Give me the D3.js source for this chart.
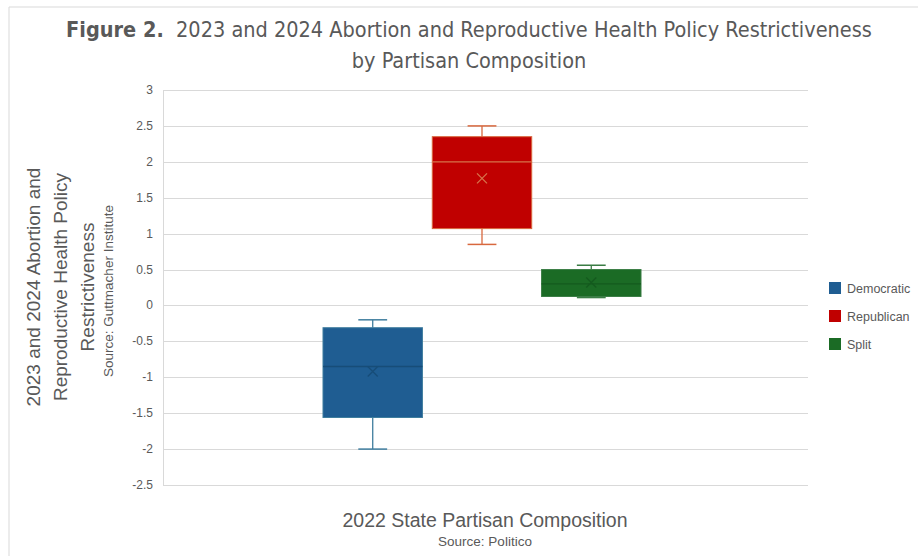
<!DOCTYPE html>
<html>
<head>
<meta charset="utf-8">
<script src="https://cdn.jsdelivr.net/npm/d3@7"></script>
<style>
  body { margin: 0; background: #fff; }
  text { font-family: "Liberation Sans", Arial, sans-serif; }
</style>
</head>
<body>
<div id="chart"></div>
<script>
// box plot stats
var series = ["Democratic", "Republican", "Split"];
var lows    = [-2.0, 0.85, 0.11];
var q1s     = [-1.56, 1.07, 0.125];
var medians = [-0.85, 2.0, 0.30];
var q3s     = [-0.31, 2.35, 0.50];
var highs   = [-0.2, 2.5, 0.56];
var means   = [-0.92, 1.77, 0.32];
var yTicks  = [3, 2.5, 2, 1.5, 1, 0.5, 0, -0.5, -1, -1.5, -2, -2.5];

var fills    = ["#1f5d92", "#c00000", "#1b6b25"];
var strokes  = ["#3f7d9e", "#d8683e", "#3b7d45"];
var midlines = ["#174d78", "#d6734a", "#145a1e"];

var W = 918, H = 556,
    plot = {left: 163, right: 808, top: 90, bottom: 485};

var svg = d3.select("#chart").append("svg").attr("width", W).attr("height", H);

// frame
svg.append("path").attr("d", "M9," + H + "V7H" + W)
    .attr("fill", "none").attr("stroke", "#d9d9d9").attr("stroke-width", 1);

var y = d3.scaleLinear().domain([-2.5, 3]).range([plot.bottom, plot.top]);

var x = d3.scaleBand().domain(series)
    .range([plot.left + 160, plot.right - 167])
    .paddingInner(0.09);

// grid
svg.append("g").selectAll("line").data(yTicks).enter().append("line")
    .attr("x1", plot.left).attr("x2", plot.right)
    .attr("y1", function(d) { return Math.round(y(d)) + 0.5; })
    .attr("y2", function(d) { return Math.round(y(d)) + 0.5; })
    .attr("stroke", "#d9d9d9");
svg.append("line")
    .attr("x1", plot.left + 0.5).attr("x2", plot.left + 0.5)
    .attr("y1", y(3)).attr("y2", y(-2.5)).attr("stroke", "#d9d9d9");

// tick labels
svg.append("g").selectAll("text").data(yTicks).enter().append("text")
    .attr("x", 153).attr("y", function(d) { return y(d) + 4; })
    .attr("text-anchor", "end").attr("fill", "#595959")
    .style("font-size", "12px")
    .text(function(d) { return d; });

// boxes
var boxes = svg.append("g").selectAll("g").data(series).enter().append("g");

boxes.each(function(s, i) {
    var g = d3.select(this),
        x0 = x(s), bw = x.bandwidth(), cx = x0 + bw / 2, cap = bw * 0.29;
    // whiskers
    g.append("line").attr("x1", cx).attr("x2", cx).attr("y1", y(highs[i])).attr("y2", y(q3s[i]))
        .attr("stroke", strokes[i]).attr("stroke-width", 1.3);
    g.append("line").attr("x1", cx).attr("x2", cx).attr("y1", y(q1s[i])).attr("y2", y(lows[i]))
        .attr("stroke", strokes[i]).attr("stroke-width", 1.3);
    [highs[i], lows[i]].forEach(function(v) {
        g.append("line").attr("x1", cx - cap / 2).attr("x2", cx + cap / 2)
            .attr("y1", y(v)).attr("y2", y(v))
            .attr("stroke", strokes[i]).attr("stroke-width", 1.5);
    });
    g.append("rect")
        .attr("x", x0).attr("width", bw)
        .attr("y", y(q3s[i])).attr("height", y(q1s[i]) - y(q3s[i]))
        .attr("fill", fills[i]).attr("stroke", strokes[i]).attr("stroke-width", 1);
    g.append("line").attr("x1", x0).attr("x2", x0 + bw)
        .attr("y1", y(medians[i])).attr("y2", y(medians[i]))
        .attr("stroke", midlines[i]).attr("stroke-width", 1.3);
    var my = y(means[i]), r = 5;
    g.append("path")
        .attr("d", "M" + (cx - r) + "," + (my - r) + "L" + (cx + r) + "," + (my + r) +
                   "M" + (cx + r) + "," + (my - r) + "L" + (cx - r) + "," + (my + r))
        .attr("stroke", midlines[i]).attr("stroke-width", 1.3).attr("fill", "none");
});

// title
var title = svg.append("text").attr("x", 469).attr("y", 37)
    .attr("text-anchor", "middle").attr("fill", "#595959")
    .style("font-family", "'Liberation Sans Narrow', 'DejaVu Sans Condensed', sans-serif")
    .style("font-size", "21.5px");
title.append("tspan").style("font-weight", "bold").text("Figure 2.");
title.append("tspan").text("\u00a0 2023 and 2024 Abortion and Reproductive Health Policy Restrictiveness");
svg.append("text").attr("x", 469).attr("y", 68)
    .attr("text-anchor", "middle").attr("fill", "#595959")
    .style("font-family", "'Liberation Sans Narrow', 'DejaVu Sans Condensed', sans-serif")
    .style("font-size", "21.5px")
    .text("by Partisan Composition");

// y axis title
var yt = svg.append("g").attr("transform", "translate(0,287) rotate(-90)");
["2023 and 2024 Abortion and", "Reproductive Health Policy", "Restrictiveness"].forEach(function(t, i) {
    yt.append("text").attr("x", 0).attr("y", 40 + i * 27)
        .attr("text-anchor", "middle").attr("fill", "#595959")
        .style("font-size", "19px").text(t);
});
yt.append("text").attr("x", -4).attr("y", 113)
    .attr("text-anchor", "middle").attr("fill", "#595959")
    .style("font-size", "13.5px").text("Source: Guttmacher Institute");

// x axis title
svg.append("text").attr("x", 485).attr("y", 527)
    .attr("text-anchor", "middle").attr("fill", "#595959")
    .style("font-size", "19.5px").text("2022 State Partisan Composition");
svg.append("text").attr("x", 485).attr("y", 546)
    .attr("text-anchor", "middle").attr("fill", "#595959")
    .style("font-size", "13.5px").text("Source: Politico");

// legend
var leg = svg.append("g").selectAll("g").data(series).enter().append("g")
    .attr("transform", function(d, i) { return "translate(829," + (282 + i * 28) + ")"; });
leg.append("rect").attr("width", 12).attr("height", 12)
    .attr("fill", function(d, i) { return fills[i]; });
leg.append("text").attr("x", 18).attr("y", 10.5).attr("fill", "#595959")
    .style("font-size", "12.5px").text(function(d) { return d; });
</script>
</body>
</html>
